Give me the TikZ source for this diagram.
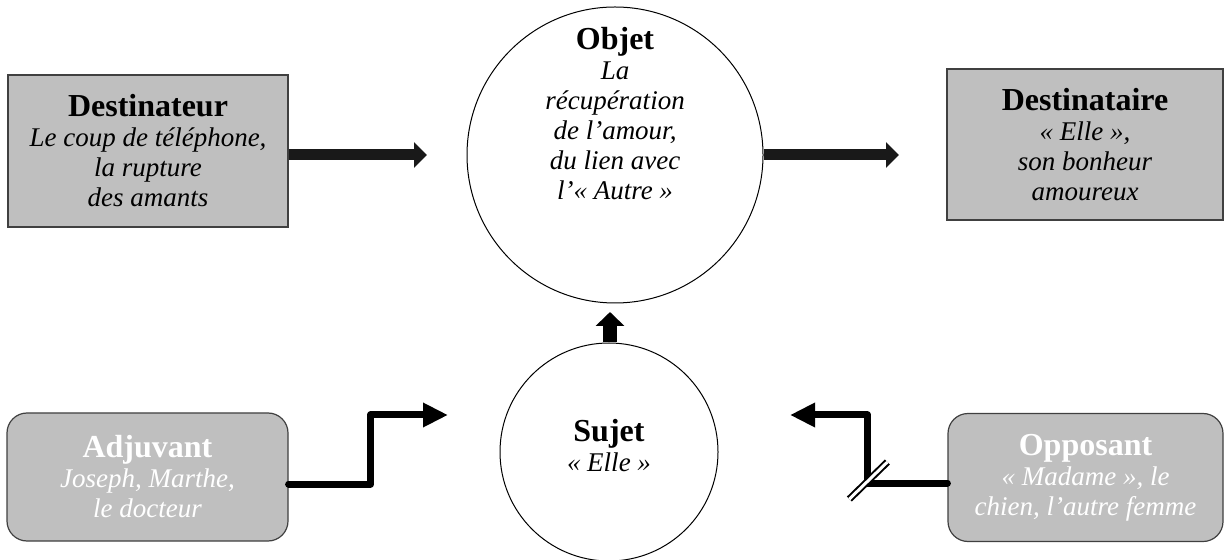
\documentclass[tikz,border=0pt]{standalone}
\usepackage{fontspec}
\setmainfont{Liberation Serif}
\usetikzlibrary{arrows.meta,positioning,calc}
\definecolor{actGray}{RGB}{191,191,191}
\definecolor{actLine}{RGB}{64,64,64}
\newcommand{\titre}[1]{{\upshape\bfseries\fontsize{16}{15}\selectfont #1}}

\begin{document}
\begin{tikzpicture}[x=0.5pt, y=-0.5pt,
  actant/.style={draw=actLine, fill=actGray, line width=0.6pt, inner sep=0pt,
                 align=center, font=\fontsize{13.5}{15}\selectfont\itshape},
  carre/.style={actant, minimum width=140pt, minimum height=76pt},
  arrondi/.style={actant, rounded corners=10pt, minimum width=140.5pt,
                  minimum height=64pt, text=white},
  rond/.style={draw, circle, line width=0.5pt, fill=white, inner sep=0pt},
  txt/.style={align=center, font=\fontsize{13.5}{15}\selectfont\itshape},
  fleche/.style={-{Triangle[length=6.5pt,width=12.5pt]}, line width=5.5pt, black!90},
  montee/.style={-{Triangle[length=7pt,width=14pt]}, line width=7pt},
  coude/.style={-{Triangle[length=12.5pt,width=11.5pt]}, line width=3.5pt,
                line cap=round, line join=round},
  barre/.style={double, double distance=1.5pt, line width=1pt}
]
  \useasboundingbox (0,0) rectangle (1224,560);

  % actants
  \node[carre] (dest) at (148,151)
    {\titre{Destinateur}\\Le coup de téléphone,\\la rupture\\des amants};
  \node[carre, minimum width=138pt, minimum height=75.5pt] (desti) at (1085,144.5)
    {\titre{Destinataire}\\«~Elle~»,\\son bonheur\\amoureux};
  \node[rond, minimum size=148pt] (objet) at (615,155) {};
  \node[txt] (objtxt) at (615,114)
    {\titre{Objet}\\La\\récupération\\de l’amour,\\du lien avec\\l’«~Autre~»};
  \node[rond, minimum size=109pt] (sujet) at (609,452) {};
  \node[txt] (sujtxt) at (609,446) {\titre{Sujet}\\«~Elle~»};
  \node[arrondi] (adj) at (147.5,477)
    {\titre{Adjuvant}\\Joseph, Marthe,\\le docteur};
  \node[arrondi, minimum width=137.5pt] (opp) at (1085.5,477.5)
    {\titre{Opposant}\\«~Madame~», le\\chien, l’autre femme};

  % bouts des fleches
  \coordinate (dtip) at (427,155);
  \coordinate (etip) at (899,155);
  \coordinate (stip) at (610,312);
  \coordinate (atip) at (448,415);
  \coordinate (otip) at (790,415);

  \draw[fleche] (dest.east |- dtip) -- (dtip);
  \draw[fleche] (objet.east) -- (etip);
  \draw[montee] (sujet.north -| stip) -- (stip);
  \draw[coude] ($(adj.east)+(0,7)$) -- ++(82,0) |- (atip);
  \draw[coude] ($(opp.west)+(0,5.5)$) -- ++(-80,0) coordinate (ocoin) |- (otip);
  \draw[barre] (ocoin) ++(-18,16) -- ++(38,-37);
\end{tikzpicture}
\end{document}
